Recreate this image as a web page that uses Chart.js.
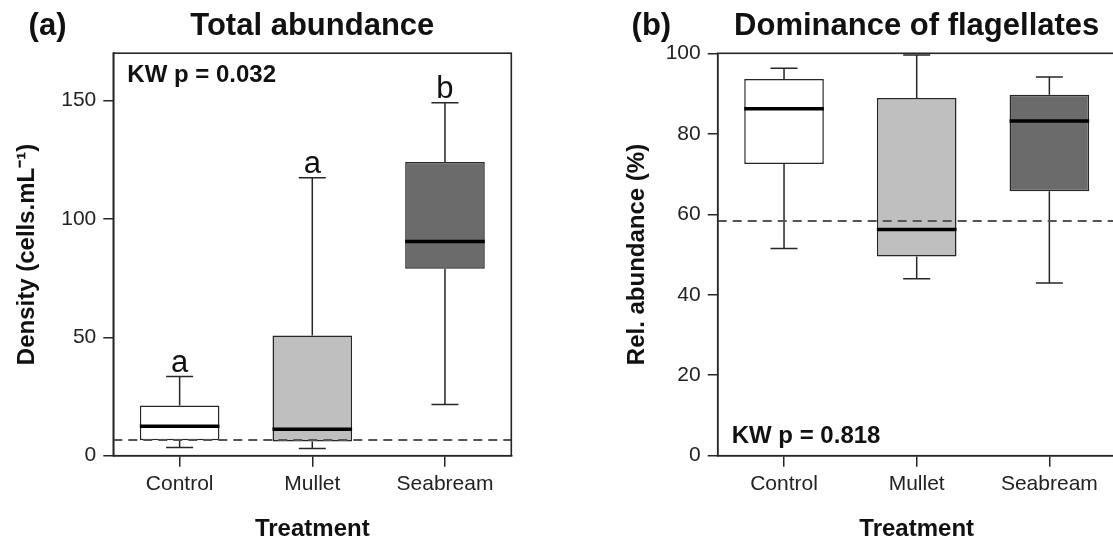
<!DOCTYPE html>
<html>
<head>
<meta charset="utf-8">
<script src="https://cdn.jsdelivr.net/npm/chart.js@4.4.1/dist/chart.umd.min.js"></script>
<style>
    html, body { margin: 0; padding: 0; background: #fff; overflow: hidden; width: 1113px; height: 545px; position: relative; }
    #panelA { position: absolute; left: 0; top: 0; }
    #panelB { position: absolute; left: 556px; top: 0; }
</style>
</head>
<body>
<canvas id="panelA" width="556" height="545"></canvas>
<canvas id="panelB" width="600" height="545"></canvas>
<script>
// Traitements (axe x commun aux deux panneaux)
const treatments = ['Control', 'Mullet', 'Seabream'];

// (a) Total abundance - cells.mL-1
const densityMin    = [3.5, 3.0, 21.6];
const densityQ1     = [6.5, 6.0, 79.0];
const densityMedian = [12.4, 11.2, 90.5];
const densityQ3     = [21.2, 50.8, 124.0];
const densityMax    = [33.4, 117.4, 149.1];
const densityLetters = ['a', 'a', 'b'];
const densityRef = 6.6;
const densityTicks = [0, 50, 100, 150];

// (b) Dominance of flagellates - %
const flagMin    = [51.5, 44.0, 42.9];
const flagQ1     = [72.5, 49.5, 65.7];
const flagMedian = [86.2, 56.2, 83.2];
const flagQ3     = [93.6, 88.9, 89.7];
const flagMax    = [96.3, 99.6, 94.1];
const flagRef = 58.3;
const flagTicks = [0, 20, 40, 60, 80, 100];

const ink = '#262626';
const fills = ['#ffffff', '#bfbfbf', '#6b6b6b'];
const FONT = "'Liberation Sans', Arial, Helvetica, sans-serif";

// Dessine moustaches, médianes, ligne de référence, cadre et annotations
const boxPlotPlugin = {
    id: 'boxPlot',
    beforeDatasetsDraw(chart, args, opts) {
        const { ctx } = chart;
        const x = chart.scales.x, y = chart.scales.y;
        ctx.save();
        ctx.strokeStyle = ink;
        ctx.lineWidth = 1.5;
        treatments.forEach((t, i) => {
            const cx = x.getPixelForValue(i);
            const capHalf = 13.5;
            [[opts.q3[i], opts.max[i]], [opts.q1[i], opts.min[i]]].forEach(([from, to]) => {
                ctx.beginPath();
                ctx.moveTo(cx, y.getPixelForValue(from));
                ctx.lineTo(cx, y.getPixelForValue(to));
                ctx.moveTo(cx - capHalf, y.getPixelForValue(to));
                ctx.lineTo(cx + capHalf, y.getPixelForValue(to));
                ctx.stroke();
            });
        });
        ctx.restore();
    },
    afterDatasetsDraw(chart, args, opts) {
        const { ctx, chartArea } = chart;
        const x = chart.scales.x, y = chart.scales.y;
        const bars = chart.getDatasetMeta(0).data;
        ctx.save();

        // médianes
        ctx.strokeStyle = '#000';
        ctx.lineWidth = 3.5;
        bars.forEach((bar, i) => {
            const py = y.getPixelForValue(opts.median[i]);
            ctx.beginPath();
            ctx.moveTo(bar.x - bar.width / 2, py);
            ctx.lineTo(bar.x + bar.width / 2, py);
            ctx.stroke();
        });

        // ligne de référence en tirets
        ctx.strokeStyle = '#555';
        ctx.lineWidth = 2;
        ctx.setLineDash([9, 6]);
        const ry = y.getPixelForValue(opts.ref);
        ctx.beginPath();
        ctx.moveTo(chartArea.left, ry);
        ctx.lineTo(chartArea.right, ry);
        ctx.stroke();
        ctx.setLineDash([]);

        // cadre
        ctx.strokeStyle = ink;
        ctx.lineWidth = 1.6;
        ctx.strokeRect(chartArea.left, chartArea.top, chartArea.right - chartArea.left, chartArea.bottom - chartArea.top);

        // lettres de significativité
        if (opts.letters) {
            ctx.fillStyle = '#111';
            ctx.font = `31px ${FONT}`;
            ctx.textAlign = 'center';
            ctx.textBaseline = 'alphabetic';
            opts.letters.forEach((l, i) => {
                ctx.fillText(l, x.getPixelForValue(i), y.getPixelForValue(opts.max[i]) - 5);
            });
        }

        // KW p
        ctx.fillStyle = '#111';
        ctx.font = `bold 24px ${FONT}`;
        ctx.textAlign = 'left';
        ctx.textBaseline = 'alphabetic';
        const kwY = opts.kwBottom ? chartArea.bottom - 12.4 : chartArea.top + 28.6;
        ctx.fillText(opts.kw, chartArea.left + 14, kwY);

        // titres
        ctx.font = `bold 31px ${FONT}`;
        ctx.textAlign = 'center';
        ctx.fillText(opts.title, (chartArea.left + chartArea.right) / 2, 34.5);
        ctx.textAlign = 'left';
        ctx.fillText(opts.tag, opts.tagX, 34.5);
        ctx.restore();
    }
};

function renderPanel(canvasId, cfg) {
    const ctx = document.getElementById(canvasId).getContext('2d');
    new Chart(ctx, {
        type: 'bar',
        data: {
            labels: treatments,
            datasets: [{
                data: treatments.map((t, i) => [cfg.q1[i], cfg.q3[i]]),
                backgroundColor: fills,
                borderColor: ink,
                borderWidth: 1.5,
                borderSkipped: false,
                barPercentage: 0.6,
                categoryPercentage: 1.0
            }]
        },
        plugins: [boxPlotPlugin],
        options: {
            responsive: false,
            animation: false,
            layout: { padding: { top: cfg.top, right: cfg.right, left: 0, bottom: 0 } },
            scales: {
                x: {
                    type: 'category',
                    offset: true,
                    grid: { offset: false, drawOnChartArea: false, drawTicks: true, tickLength: 11, color: ink, lineWidth: 1.5 },
                    border: { display: true, color: ink, width: 1.5 },
                    ticks: { color: '#222', font: { family: FONT, size: 21 }, padding: 5 },
                    title: { display: true, text: 'Treatment', color: '#111', font: { family: FONT, size: 24, weight: 'bold' }, padding: { top: 0, bottom: 1 } },
                    afterFit: (scale) => { scale.height = 89.3; }
                },
                y: {
                    min: cfg.yMin,
                    max: cfg.yMax,
                    afterBuildTicks: (scale) => { scale.ticks = cfg.ticks.map(v => ({ value: v })); },
                    grid: { drawOnChartArea: false, drawTicks: true, tickLength: 10, color: ink, lineWidth: 1.5 },
                    border: { display: true, color: ink, width: 1.5 },
                    ticks: { color: '#222', font: { family: FONT, size: 21 }, padding: 7 },
                    title: { display: true, text: cfg.yTitle, color: '#111', font: { family: FONT, size: 24, weight: 'bold' }, padding: { top: cfg.yTitlePad, bottom: 0 } },
                    afterFit: (scale) => { scale.width = cfg.yWidth; }
                }
            },
            plugins: {
                legend: { display: false },
                tooltip: { enabled: false },
                boxPlot: {
                    min: cfg.min, q1: cfg.q1, median: cfg.median, q3: cfg.q3, max: cfg.max,
                    ref: cfg.ref, letters: cfg.letters, kw: cfg.kw, kwBottom: cfg.kwBottom,
                    title: cfg.title, tag: cfg.tag, tagX: cfg.tagX
                }
            }
        }
    });
}

renderPanel('panelA', {
    min: densityMin, q1: densityQ1, median: densityMedian, q3: densityQ3, max: densityMax,
    ref: densityRef, letters: densityLetters, ticks: densityTicks,
    yMin: 0, yMax: 170,
    yTitle: 'Density (cells.mL⁻¹)', yTitlePad: 12.6, yWidth: 113.3,
    top: 53.2, right: 44.7,
    kw: 'KW p = 0.032', kwBottom: false,
    title: 'Total abundance', tag: '(a)', tagX: 28.6
});

renderPanel('panelB', {
    min: flagMin, q1: flagQ1, median: flagMedian, q3: flagQ3, max: flagMax,
    ref: flagRef, letters: null, ticks: flagTicks,
    yMin: 0, yMax: 100,
    yTitle: 'Rel. abundance (%)', yTitlePad: 66.6, yWidth: 161.7,
    top: 53.3, right: 40.3,
    kw: 'KW p = 0.818', kwBottom: true,
    title: 'Dominance of flagellates', tag: '(b)', tagX: 75.6
});
</script>
</body>
</html>
